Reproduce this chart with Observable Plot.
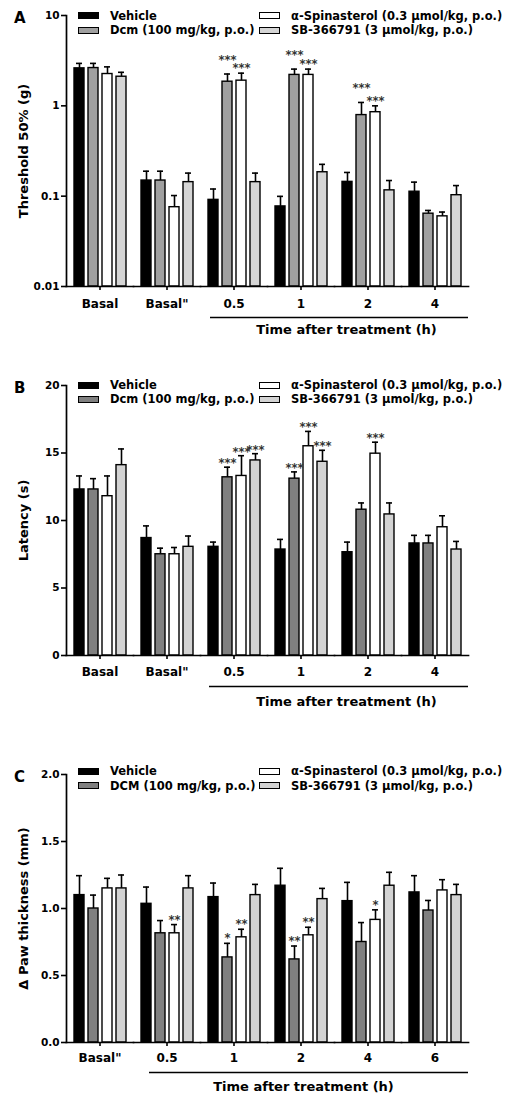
<!DOCTYPE html>
<html>
<head>
<meta charset="utf-8">
<script src="https://cdn.jsdelivr.net/npm/d3@7"></script>
<script src="https://cdn.jsdelivr.net/npm/@observablehq/plot@0.6"></script>
<style>
  body { margin: 0; background: #fff; width: 515px; }
  .panel { position: relative; width: 515px; }
  .panel svg { display: block; }
  .letter { position: absolute; left: 14px; font: bold 15px "DejaVu Sans"; line-height: 16px; }
  .leg { position: absolute; display: flex; align-items: center; height: 12px; font: bold 11.5px "DejaVu Sans"; white-space: nowrap; color: #000; }
  .sw { width: 19px; height: 5px; border: 1.5px solid #000; margin-right: 11px; }
</style>
</head>
<body>
<div id="root"></div>
<script>
// ---------- series ----------
const seriesKeys = ["Vehicle", "Dcm", "Spinasterol", "SB"];
const legendAB = ["Vehicle", "Dcm (100 mg/kg, p.o.)", "α-Spinasterol (0.3 µmol/kg, p.o.)", "SB-366791 (3 µmol/kg, p.o.)"];
const legendC = ["Vehicle", "DCM (100 mg/kg, p.o.)", "α-Spinasterol (0.3 µmol/kg, p.o.)", "SB-366791 (3 µmol/kg, p.o.)"];
const colorsA = ["#000000", "#a0a0a0", "#ffffff", "#d5d5d5"];
const colorsBC = ["#000000", "#808080", "#ffffff", "#d3d3d3"];
const timeLabel = "Time after treatment (h)";

// ---------- Panel A: threshold 50% (g), log scale ----------
const catsA = ["Basal", "Basal\"", "0.5", "1", "2", "4"];
const timeCatsA = ["0.5", "1", "2", "4"];
const vehA = [2.6, 0.149, 0.091, 0.077, 0.144, 0.112];
const dcmA = [2.62, 0.149, 1.85, 2.2, 0.79, 0.064];
const spinA = [2.25, 0.0755, 1.9, 2.2, 0.85, 0.0598];
const sbA = [2.1, 0.143, 0.143, 0.184, 0.116, 0.1025];
const vehAerr = [2.95, 0.189, 0.12, 0.0995, 0.183, 0.143];
const dcmAerr = [2.95, 0.189, 2.25, 2.55, 1.09, 0.0695];
const spinAerr = [2.7, 0.1016, 2.3, 2.55, 1.0, 0.0667];
const sbAerr = [2.35, 0.18, 0.18, 0.225, 0.149, 0.131];
const vehAstar = ["", "", "", "", "", ""];
const dcmAstar = ["", "", "***", "***", "***", ""];
const spinAstar = ["", "", "***", "***", "***", ""];
const sbAstar = ["", "", "", "", "", ""];
const ticksA = [0.01, 0.1, 1, 10];

// ---------- Panel B: latency (s) ----------
const catsB = ["Basal", "Basal\"", "0.5", "1", "2", "4"];
const timeCatsB = ["0.5", "1", "2", "4"];
const vehB = [12.3, 8.7, 8.05, 7.85, 7.65, 8.3];
const dcmB = [12.3, 7.5, 13.2, 13.1, 10.8, 8.3];
const spinB = [11.8, 7.5, 13.3, 15.5, 14.95, 9.5];
const sbB = [14.1, 8.05, 14.45, 14.35, 10.45, 7.85];
const vehBerr = [13.3, 9.6, 8.4, 8.6, 8.4, 8.9];
const dcmBerr = [13.1, 7.95, 13.95, 13.6, 11.3, 8.9];
const spinBerr = [13.3, 8.0, 14.8, 16.6, 15.8, 10.35];
const sbBerr = [15.3, 8.85, 14.95, 15.2, 11.3, 8.45];
const vehBstar = ["", "", "", "", "", ""];
const dcmBstar = ["", "", "***", "***", "", ""];
const spinBstar = ["", "", "***", "***", "***", ""];
const sbBstar = ["", "", "***", "***", "", ""];
const ticksB = [0, 5, 10, 15, 20];

// ---------- Panel C: Δ paw thickness (mm) ----------
const catsC = ["Basal\"", "0.5", "1", "2", "4", "6"];
const timeCatsC = ["0.5", "1", "2", "4", "6"];
const vehC = [1.10, 1.035, 1.085, 1.17, 1.055, 1.12];
const dcmC = [1.0, 0.815, 0.635, 0.62, 0.75, 0.985];
const spinC = [1.15, 0.815, 0.785, 0.80, 0.915, 1.135];
const sbC = [1.15, 1.15, 1.10, 1.07, 1.17, 1.10];
const vehCerr = [1.245, 1.16, 1.19, 1.30, 1.195, 1.245];
const dcmCerr = [1.10, 0.91, 0.74, 0.72, 0.895, 1.06];
const spinCerr = [1.225, 0.88, 0.845, 0.86, 0.99, 1.215];
const sbCerr = [1.25, 1.245, 1.18, 1.15, 1.27, 1.18];
const vehCstar = ["", "", "", "", "", ""];
const dcmCstar = ["", "", "*", "**", "", ""];
const spinCstar = ["", "**", "**", "**", "*", ""];
const sbCstar = ["", "", "", "", "", ""];
const ticksC = [0, 0.5, 1, 1.5, 2];

function rows(cats, means, errs, stars) {
  const out = [];
  cats.forEach((c, i) => seriesKeys.forEach((s, j) =>
    out.push({cat: c, series: s, value: means[j][i], err: errs[j][i], star: stars[j][i]})));
  return out;
}

function panel(cfg) {
  const data = rows(cfg.cats, cfg.means, cfg.errs, cfg.stars);
  const base = cfg.yType === "log" ? cfg.yDomain[0] : 0;
  const starMarks = seriesKeys.map((s, j) =>
    Plot.text(data.filter(d => d.series === s && d.star), {
      fx: "cat", x: "series", y: "err", text: "star",
      lineAnchor: "bottom", dy: cfg.starDy[j],
      fontSize: 11.5, fontWeight: "bold", fill: "#333"
    }));
  const plot = Plot.plot({
    width: 515, height: cfg.height,
    marginLeft: 64, marginRight: 45, marginTop: cfg.mt, marginBottom: cfg.mb,
    style: {background: "white", color: "black", fontFamily: "'DejaVu Sans'", fontWeight: "bold", overflow: "visible"},
    fx: {domain: cfg.cats, padding: 0},
    x: {domain: seriesKeys, paddingInner: 0.31, paddingOuter: 0.49, axis: null},
    y: {type: cfg.yType, domain: cfg.yDomain},
    color: {domain: seriesKeys, range: cfg.colors},
    marks: [
      Plot.barY(data, {fx: "cat", x: "series", y1: base, y2: "value", fill: "series", stroke: "black", strokeWidth: 1.4}),
      Plot.ruleX(data, {fx: "cat", x: "series", y1: "value", y2: "err", strokeWidth: 1.6}),
      Plot.tickY(data, {fx: "cat", x: "series", y: "err", insetLeft: 2, insetRight: 2, strokeWidth: 1.6}),
      ...starMarks,
      Plot.frame({anchor: "left", facetAnchor: "left", strokeWidth: 1.7}),
      Plot.frame({anchor: "bottom", strokeWidth: 1.7}),
      Plot.axisY({ticks: cfg.ticks, tickFormat: cfg.format, tickSize: 5, tickPadding: 2, fontSize: 10.5, strokeWidth: 1.6, label: null}),
      Plot.axisY({ticks: [], label: cfg.yLabel, labelAnchor: "center", labelArrow: "none", labelOffset: 48, fontSize: 13}),
      Plot.axisFx({anchor: "bottom", tickSize: 4, tickPadding: cfg.tickPad, fontSize: 12, strokeWidth: 1.6, label: null}),
      Plot.ruleY(cfg.timeCats.slice(0, 1), {fx: d => d, y: () => base, dy: cfg.lineDy, insetLeft: cfg.lineInset, strokeWidth: 1.5}),
      Plot.ruleY(cfg.timeCats.slice(1), {fx: d => d, y: () => base, dy: cfg.lineDy, strokeWidth: 1.5}),
      Plot.text([timeLabel], {fx: () => cfg.labelCat, text: d => d, frameAnchor: "bottom-left", textAnchor: "middle", dx: cfg.labelDx, dy: cfg.labelDy, fontSize: 13})
    ]
  });
  const div = document.createElement("div");
  div.className = "panel";
  div.appendChild(plot);
  const letter = document.createElement("div");
  letter.className = "letter";
  letter.textContent = cfg.letter;
  letter.style.top = (cfg.mt + 3 - 8) + "px";
  div.appendChild(letter);
  const legPos = [[78, 0], [78, 1], [259, 0], [259, 1]];
  cfg.legend.forEach((name, j) => {
    const item = document.createElement("div");
    item.className = "leg";
    item.style.left = legPos[j][0] + "px";
    item.style.top = (cfg.legRows[legPos[j][1]] - 6) + "px";
    const sw = document.createElement("div");
    sw.className = "sw";
    sw.style.background = cfg.colors[j];
    item.appendChild(sw);
    item.appendChild(document.createTextNode(name));
    div.appendChild(item);
  });
  return div;
}

const root = document.getElementById("root");
root.appendChild(panel({
  letter: "A", cats: catsA, timeCats: timeCatsA,
  means: [vehA, dcmA, spinA, sbA], errs: [vehAerr, dcmAerr, spinAerr, sbAerr],
  stars: [vehAstar, dcmAstar, spinAstar, sbAstar], starDy: [0, -10, -1, 0],
  yType: "log", yDomain: [0.01, 10], ticks: ticksA, format: d => String(d),
  yLabel: "Threshold 50% (g)", colors: colorsA, legend: legendAB,
  height: 350, mt: 15, mb: 64, tickPad: 9, lineDy: 31, lineInset: 10, labelCat: "2", labelDx: 12, labelDy: 47,
  legRows: [15.5, 30]
}));
root.appendChild(panel({
  letter: "B", cats: catsB, timeCats: timeCatsB,
  means: [vehB, dcmB, spinB, sbB], errs: [vehBerr, dcmBerr, spinBerr, sbBerr],
  stars: [vehBstar, dcmBstar, spinBstar, sbBstar], starDy: [0, 0, 0, 0],
  yType: "linear", yDomain: [0, 20], ticks: ticksB, format: d => String(d),
  yLabel: "Latency (s)", colors: colorsBC, legend: legendAB,
  height: 370, mt: 35, mb: 65, tickPad: 8, lineDy: 31, lineInset: 9, labelCat: "2", labelDx: 12, labelDy: 50,
  legRows: [35, 49]
}));
root.appendChild(panel({
  letter: "C", cats: catsC, timeCats: timeCatsC,
  means: [vehC, dcmC, spinC, sbC], errs: [vehCerr, dcmCerr, spinCerr, sbCerr],
  stars: [vehCstar, dcmCstar, spinCstar, sbCstar], starDy: [0, -1, -1, 0],
  yType: "linear", yDomain: [0, 2], ticks: ticksC, format: d3.format(".1f"),
  yLabel: "Δ Paw thickness (mm)", colors: colorsBC, legend: legendC,
  height: 381, mt: 54, mb: 59, tickPad: 7, lineDy: 30, lineInset: 16, labelCat: "2", labelDx: 36, labelDy: 48,
  legRows: [51, 65.5]
}));
</script>
</body>
</html>
